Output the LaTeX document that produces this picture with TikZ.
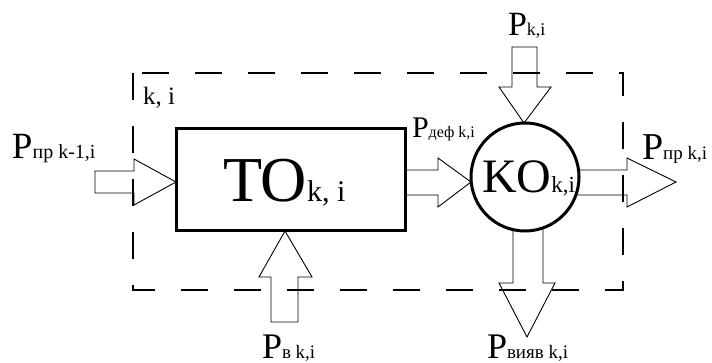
\documentclass[tikz,border=0pt]{standalone}
\usepackage{fontspec}
\setmainfont{Liberation Serif}
\newcommand\plab[4]{{\fontsize{#1}{#1}\selectfont #3}{\fontsize{#2}{#2}\selectfont #4}}
\begin{document}
\begin{tikzpicture}[x=1pt,y=-1pt,
  lbl/.style={anchor=base west,inner sep=0pt,outer sep=0pt},
  blk/.style={draw=black,line width=0.9pt,line join=miter},
  heavy/.style={draw=black,line width=3pt}]
\useasboundingbox (0,0) rectangle (712,363);
% dashed frame
\draw[line width=1.2pt,dash pattern=on 27pt off 26pt] (133,73) rectangle (623,290);
\node[lbl] (ki) at (143,105) {\fontsize{25}{25}\selectfont k, i};
% TO block
\node[heavy,rectangle,minimum width=228.5pt,minimum height=102pt,inner sep=0pt,outer sep=0pt] (TO) at (290.75,179.5) {};
\node[lbl] (TOt) at (223,202) {\plab{64}{30}{TO}{k, i}};
% KO circle
\node[heavy,circle,minimum size=108pt,inner sep=0pt,outer sep=0pt] (KO) at (525,177) {};
\node[lbl] (KOt) at (482,193) {\plab{48}{23}{KO}{k,i}};
% arrows
\draw[blk] (95,171) -- (134,171) -- (134,159) -- (176,182) -- (134,205) -- (134,193) -- (95,193) -- cycle;
\draw[blk] (405,170) -- (438,170) -- (438,158) -- (471,182) -- (438,207) -- (438,195) -- (405,195);
\draw[blk] (578.5,170) -- (627,170) -- (627,158) -- (676,182) -- (627,207) -- (627,195) -- (576,195);
\draw[blk] (513,229.6) -- (513,283) -- (499,283) -- (527,337) -- (555,283) -- (543,283) -- (543,228);
\draw[blk] (512,47) -- (537,47) -- (537,87) -- (551,87) -- (524,123) -- (499,87) -- (512,87) -- cycle;
\draw[blk] (271,322) -- (298,322) -- (298,277) -- (312,277) -- (285,231) -- (259,277) -- (271,277) -- cycle;
% labels
\node[lbl] (l1) at (12,159) {\plab{37}{20}{P}{пр k-1,i}};
\node[lbl] (l2) at (508,36) {\plab{34}{18}{P}{k,i}};
\node[lbl] (l3) at (412,138) {\plab{30}{16}{P}{деф k,i}};
\node[lbl] (l4) at (642,160) {\plab{38}{19}{P}{пр k,i}};
\node[lbl] (l5) at (262,358) {\plab{36}{19}{P}{в k,i}};
\node[lbl] (l6) at (487,358) {\plab{36}{19}{P}{вияв k,i}};
\end{tikzpicture}
\end{document}
